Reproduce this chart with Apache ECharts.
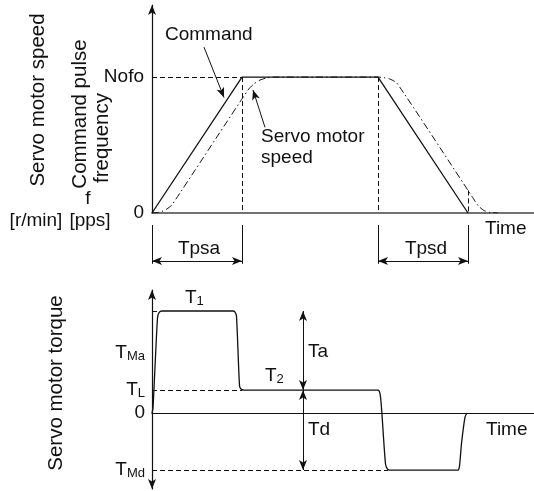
<!DOCTYPE html>
<html>
<head>
<meta charset="utf-8">
<script src="https://cdn.jsdelivr.net/npm/echarts@6/dist/echarts.min.js"></script>
<style>
html, body { margin: 0; padding: 0; background: #fff; }
#chart { width: 534px; height: 491px; }
</style>
</head>
<body>
<div id="chart"></div>
<script>
// time in arbitrary units (Tpsa = 9), speed relative to Nofo, torque relative to TMa
const cmdTime = [0, 9, 22.6, 31.6];
const cmdSpeed = [0, 1, 1, 0];

const servoTime = [0, 0.5, 1.0, 1.5, 2.0, 9.6, 10.2, 10.8, 11.5, 12.2, 22.6, 23.2, 23.8, 24.5, 32.0, 32.6, 33.2, 33.8, 34.6];
const servoSpeed = [0, 0.003, 0.012, 0.03, 0.06, 0.905, 0.95, 0.978, 0.994, 1, 1, 0.995, 0.985, 0.955, 0.122, 0.055, 0.018, 0.004, 0];

const torqueTime = [0, 0.1, 0.3, 0.55, 0.7, 1.0, 8.1, 8.3, 8.45, 8.75, 8.9, 9.2, 22.6, 22.8, 22.95, 23.35, 23.55, 23.8, 30.6, 30.75, 30.95, 31.3, 31.5];
const torqueValue = [0, 0.05, 0.45, 0.93, 0.985, 1, 1, 0.99, 0.95, 0.27, 0.235, 0.225, 0.225, 0.19, 0.05, -0.5, -0.55, -0.559, -0.559, -0.52, -0.3, -0.04, 0];

// reference levels / instants
const Tpsa = [0, 9];
const Tpsd = [22.6, 31.6];
const servoAtTpsdEnd = 0.166;
const TMa = 1, TL = 0.225, TMd = -0.559;
const speedTicks = [0, 1];
const speedTickNames = ['0', 'Nofo'];
const torqueTicks = [TMd, 0, TL, 0.588];
const torqueTickNames = ['{t|T}{s|Md}', '0', '{t|T}{s|L}', '{t|T}{s|Ma}'];
const taTdTime = 15.1;

const ink = '#111';
const FONT = '"Liberation Sans", Arial, sans-serif';

const chart = echarts.init(document.getElementById('chart'));

function pts(xs, ys) { return xs.map((x, i) => [x, ys[i]]); }
const dashed = { type: [5, 3], width: 1, color: ink };
const arrowLine = { type: 'solid', width: 1, color: ink };
function seg(a, b, style, s1, s2) {
    return [{ coord: a, lineStyle: style, symbol: s1 || 'none' }, { coord: b, symbol: s2 || 'none' }];
}
const richSub = {
    t: { fontSize: 19, fontFamily: FONT, color: ink },
    s: { fontSize: 13, fontFamily: FONT, color: ink, verticalAlign: 'bottom', padding: [6, 0, 0, 0] }
};
function txt(text, x, y, opt) {
    return Object.assign({
        type: 'text', x: x, y: y, silent: true,
        style: Object.assign({ text: text, fontSize: 19, fontFamily: FONT, fill: ink, align: 'left', verticalAlign: 'middle', rich: richSub }, opt || {})
    });
}
function vtxt(text, x, y) {
    return { type: 'text', x: x, y: y, rotation: Math.PI / 2, silent: true,
        style: { text: text, fontSize: 20.5, fontFamily: FONT, fill: ink, align: 'center', verticalAlign: 'middle' } };
}
const hiddenX = (idx) => ({
    type: 'value', gridIndex: idx, min: 0, max: 38.2,
    axisLine: { show: false }, axisTick: { show: false }, axisLabel: { show: false }, splitLine: { show: false }
});
const markBase = { silent: true, animation: false, symbolSize: [6, 10], label: { show: false }, emphasis: { disabled: true } };

chart.setOption({
    animation: false,
    backgroundColor: '#fff',
    grid: [
        { left: 152, width: 382, top: 5, height: 208 },
        { left: 152, width: 382, top: 225, height: 40 },
        { left: 152, width: 382, top: 290, height: 199 }
    ],
    xAxis: [
        Object.assign(hiddenX(0), { axisLine: { show: true, onZero: true, lineStyle: { color: '#444', width: 1.6 } } }),
        hiddenX(1),
        Object.assign(hiddenX(2), { axisLine: { show: true, onZero: true, lineStyle: { color: ink, width: 1.2 } } })
    ],
    yAxis: [
        {
            type: 'value', gridIndex: 0, min: 0, max: 1.53,
            axisLine: { show: true, symbol: ['none', 'arrow'], symbolSize: [6, 10], lineStyle: { color: ink, width: 1.2 } },
            axisTick: { show: false }, splitLine: { show: false },
            axisLabel: { customValues: speedTicks, margin: 8, fontSize: 19, fontFamily: FONT, color: ink,
                formatter: v => speedTickNames[speedTicks.findIndex(t => Math.abs(t - v) < 1e-6)] }
        },
        {
            type: 'value', gridIndex: 1, min: 0, max: 1, show: false
        },
        {
            type: 'value', gridIndex: 2, min: -0.745, max: 1.206,
            axisLine: { show: true, symbol: ['arrow', 'arrow'], symbolSize: [6, 10], lineStyle: { color: ink, width: 1.2 } },
            axisTick: { show: false }, splitLine: { show: false },
            axisLabel: { customValues: torqueTicks, margin: 7, fontSize: 19, fontFamily: FONT, color: ink, rich: richSub,
                formatter: v => torqueTickNames[torqueTicks.findIndex(t => Math.abs(t - v) < 1e-6)] }
        }
    ],
    series: [
        {
            name: 'Command', type: 'line', xAxisIndex: 0, yAxisIndex: 0,
            data: pts(cmdTime, cmdSpeed), showSymbol: false, symbol: 'none',
            lineStyle: { color: ink, width: 1.3 },
            markLine: Object.assign({}, markBase, {
                data: [
                    seg([0, 1], [Tpsa[1], 1], dashed),
                    seg([Tpsa[1], 1], [Tpsa[1], 0], dashed),
                    seg([Tpsd[0], 1], [Tpsd[0], 0], dashed),
                    seg([Tpsd[1], servoAtTpsdEnd], [Tpsd[1], 0], dashed),
                    // annotation pointers
                    seg([5.2, 1.22], [7.2, 0.85], arrowLine, 'none', 'arrow'),
                    seg([11.3, 0.63], [10.1, 0.905], arrowLine, 'none', 'arrow')
                ]
            })
        },
        {
            name: 'Servo motor speed', type: 'line', xAxisIndex: 0, yAxisIndex: 0,
            data: pts(servoTime, servoSpeed), showSymbol: false, symbol: 'none', smooth: 0.2,
            lineStyle: { color: ink, width: 1, type: [7, 3, 1.5, 3] }
        },
        {
            name: 'brackets', type: 'line', xAxisIndex: 1, yAxisIndex: 1, data: [],
            markLine: Object.assign({}, markBase, {
                data: [
                    seg([Tpsa[0], 0.03], [Tpsa[0], 1], arrowLine),
                    seg([Tpsa[1], 0.03], [Tpsa[1], 1], arrowLine),
                    seg([Tpsd[0], 0.03], [Tpsd[0], 1], arrowLine),
                    seg([Tpsd[1], 0.03], [Tpsd[1], 1], arrowLine),
                    seg([Tpsa[0], 0.1], [Tpsa[1], 0.1], arrowLine, 'arrow', 'arrow'),
                    seg([Tpsd[0], 0.1], [Tpsd[1], 0.1], arrowLine, 'arrow', 'arrow')
                ]
            })
        },
        {
            name: 'Servo motor torque', type: 'line', xAxisIndex: 2, yAxisIndex: 2,
            data: pts(torqueTime, torqueValue), showSymbol: false, symbol: 'none', smooth: 0.25,
            lineStyle: { color: ink, width: 1.3 },
            markLine: Object.assign({}, markBase, {
                data: [
                    seg([0, TMa], [0.8, TMa], dashed),
                    seg([0, TL], [Tpsa[1], TL], dashed),
                    seg([0, TMd], [23.6, TMd], dashed),
                    seg([taTdTime, TL], [taTdTime, TMa], arrowLine, 'arrow', 'arrow'),
                    seg([taTdTime, TL], [taTdTime, TMd], arrowLine, 'arrow', 'arrow')
                ]
            })
        }
    ],
    graphic: [
        vtxt('Servo motor speed', 38, 100),
        vtxt('Command pulse', 80, 114),
        vtxt('frequency', 102, 138),
        vtxt('Servo motor torque', 56, 383),
        txt('f', 88, 199, { align: 'center' }),
        txt('[r/min]', 36, 221, { align: 'center' }),
        txt('[pps]', 90, 221, { align: 'center' }),
        txt('Command', 165, 35),
        txt('Servo motor', 261, 137),
        txt('speed', 261, 158),
        txt('Time', 485, 229),
        txt('Tpsa', 199, 249, { align: 'center' }),
        txt('Tpsd', 426, 249, { align: 'center' }),
        txt('{t|T}{s|1}', 185, 298),
        txt('{t|T}{s|2}', 265, 376),
        txt('Ta', 308, 352),
        txt('Td', 308, 430),
        txt('Time', 486, 430)
    ]
});
</script>
</body>
</html>
